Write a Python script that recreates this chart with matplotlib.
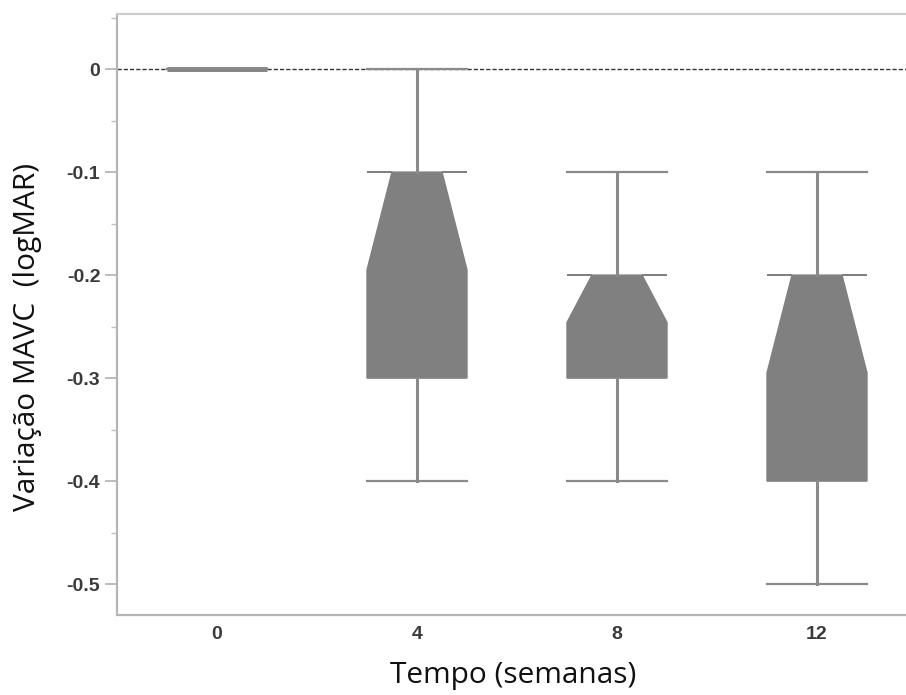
import matplotlib.pyplot as plt
from matplotlib.ticker import MultipleLocator

# values (change in logMAR per visit)
weeks = [0, 4, 8, 12]
whis_lo = [0.0, -0.4, -0.4, -0.5]
q1 = [0.0, -0.3, -0.3, -0.4]
medians = [0.0, -0.1, -0.2, -0.2]
q3 = [0.0, -0.1, -0.2, -0.2]
whis_hi = [0.0, 0.0, -0.1, -0.1]
notch_lo = [0.0, -0.195, -0.246, -0.295]
notch_hi = [0.0, -0.1, -0.2, -0.2]

ytick_vals = [0, -0.1, -0.2, -0.3, -0.4, -0.5]
ytick_labels = ['0', '-0.1', '-0.2', '-0.3', '-0.4', '-0.5']

box_color = '#808080'
line_color = '#8a8a8a'

stats = []
for i in range(len(weeks)):
    stats.append({
        'med': medians[i], 'q1': q1[i], 'q3': q3[i],
        'whislo': whis_lo[i], 'whishi': whis_hi[i],
        'cilo': notch_lo[i], 'cihi': notch_hi[i], 'fliers': [],
    })

fig = plt.figure(figsize=(9.06, 6.95), dpi=100)
ax = fig.add_axes([117 / 906, 80 / 695, 800 / 906, 601 / 695])

# reference line at zero
ax.axhline(0, color='#333333', lw=1.0, ls=(0, (3, 1.5)), zorder=1)

common = dict(widths=2, capwidths=2, patch_artist=True, showfliers=False,
              manage_ticks=False,
              whiskerprops=dict(color=line_color, lw=2.2),
              capprops=dict(color=line_color, lw=1.6),
              medianprops=dict(lw=0), zorder=2)

# week 0: every statistic is zero, drawn as a flat thick bar
ax.bxp(stats[:1], positions=weeks[:1], shownotches=False,
       boxprops=dict(facecolor=box_color, edgecolor=box_color, lw=3.5),
       **common)
# later visits: notched boxes
ax.bxp(stats[1:], positions=weeks[1:], shownotches=True,
       boxprops=dict(facecolor=box_color, edgecolor=box_color, lw=1.0),
       **common)

ax.set_xlim(-2, 14)
ax.set_ylim(-0.530, 0.0535)
ax.set_xticks(weeks)
ax.set_xticklabels([str(w) for w in weeks])
ax.set_yticks(ytick_vals)
ax.set_yticklabels(ytick_labels)
ax.yaxis.set_minor_locator(MultipleLocator(0.05))

for lab in ax.get_xticklabels() + ax.get_yticklabels():
    lab.set_fontfamily('Liberation Sans')
    lab.set_fontsize(14)
    lab.set_fontweight('bold')
    lab.set_color('#3a3a3a')

ax.tick_params(axis='x', length=0, pad=8)
ax.tick_params(axis='y', which='major', length=9, width=1.2,
               color='#b0b0b0', pad=3)
ax.tick_params(axis='y', which='minor', length=4.5, width=1.0,
               color='#c0c0c0')

for side in ['left', 'bottom']:
    ax.spines[side].set_color('#b5b5b5')
    ax.spines[side].set_linewidth(1.6)
ax.spines['top'].set_color('#cccccc')
ax.spines['top'].set_linewidth(1.6)
ax.spines['right'].set_visible(False)

label_font = dict(family='Open Sans', size=21.5, color='#111111')
ax.set_xlabel('Tempo (semanas)', **label_font)
ax.set_ylabel('Variação MAVC  (logMAR)', **label_font)
ax.xaxis.set_label_coords(0.495, -0.076)
ax.yaxis.set_label_coords(-0.094, 0.4626)

fig.savefig('out.png', dpi=100)
